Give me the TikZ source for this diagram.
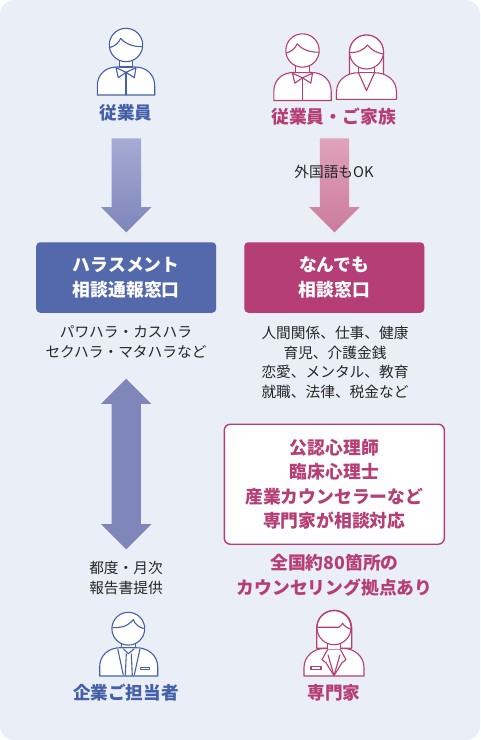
\documentclass[tikz,border=0pt]{standalone}
\usepackage{fontspec}
\setmainfont{Noto Sans CJK JP}
\usetikzlibrary{shapes.arrows,shadows}
\definecolor{panelbg}{HTML}{E9EEF7}
\definecolor{bluemain}{HTML}{5468AC}
\definecolor{bluetext}{HTML}{4460A8}
\definecolor{pinkmain}{HTML}{B43E75}
\definecolor{bluefade}{HTML}{A5ABD3}
\definecolor{bluedeep}{HTML}{7E86BA}
\definecolor{pinkfade}{HTML}{E0A3BB}
\definecolor{pinkdeep}{HTML}{CB7B9D}
\tikzset{
  textbody/.style={align=center, text=black!85, inner sep=0pt, font=\fontsize{14.7}{19.6}\selectfont},
  textblue/.style={align=center, text=bluetext, inner sep=0pt, font=\fontsize{17.6}{24}\selectfont\bfseries},
  textpink/.style={align=center, text=pinkmain, inner sep=0pt, font=\fontsize{17.8}{24.4}\selectfont\bfseries},
  deskbox/.style={draw=none, fill=#1, rounded corners=4pt, minimum width=180pt, minimum height=70.5pt, align=center, inner sep=0pt, text=white, font=\fontsize{17.8}{24.6}\selectfont\bfseries, drop shadow={shadow xshift=0pt, shadow yshift=0pt, opacity=0.18, fill=#1}},
  downarrow/.style 2 args={single arrow, shape border rotate=270, draw=none, top color=#1, bottom color=#2, minimum height=94pt, single arrow head extend=10.5pt, single arrow head indent=0pt, inner sep=14.5pt, outer sep=0pt},
  icon/.style={draw=#1, fill=white, line width=1.1pt, line join=round},
  man/.pic={
    \path[pic actions] (-28.7,50) -- (-28.7,41) .. controls (-28.7,29) and (-20,22) .. (-9,22) -- (9,22) .. controls (20,22) and (28.7,29) .. (28.7,41) -- (28.7,50) -- cycle;
    \path[pic actions] (-6.7,12) -- (-6.7,22) -- (6.7,22) -- (6.7,12);
    \path[pic actions] (-10,22.7) -- (-7.7,32.7) -- (0,27.3) -- (8.3,32.7) -- (10,22.7) -- (0,27.3) -- cycle;
    \path[pic actions] (0,27.3) -- (0,50);
    \path[pic actions] (0,0) circle (16.7);
    \path[pic actions] (-16.5,2.7) .. controls (-10,1) and (-7,-3) .. (-5.3,-6.7) .. controls (-1,-1) and (8,2) .. (16.5,1.7);
  },
  woman/.pic={
    \path[pic actions] (-17,0) -- (-17,26) -- (17,26) -- (17,0) arc (0:-180:17) -- cycle;
    \path[pic actions] (-30,47.3) -- (-30,40) .. controls (-30,28) and (-20,20.7) .. (-8,20.7) -- (8,20.7) .. controls (20,20.7) and (30,28) .. (30,40) -- (30,47.3) -- cycle;
    \path[pic actions] (-8,20.7) -- (0,38.7) -- (8,20.7);
    \path[pic actions] (-8,14) -- (-8,20.7) -- (8,20.7) -- (8,14);
    \path[pic actions] (0,0) circle (17);
    \path[pic actions] (-17,0.5) .. controls (-8,1) and (-2,-3) .. (1,-7) .. controls (5,-2) and (10,1) .. (17,2);
  },
  officer/.pic={
    \path[pic actions] (-28.6,47.3) -- (-28.6,38) .. controls (-28.6,27) and (-20,19) .. (-8,19) -- (8,19) .. controls (20,19) and (29.4,27) .. (29.4,38) -- (29.4,47.3) -- cycle;
    \path[pic actions] (-6.6,12) -- (-6.6,19) -- (7.4,19) -- (7.4,12);
    \path[pic actions] (-10.6,20) -- (-5,46.3);
    \path[pic actions] (11.7,20) -- (6,46.3);
    \path[pic actions] (-5,20) -- (0,25) -- (6,20);
    \path[pic actions] (-2,25) -- (-3,47) (3,25) -- (4,47);
    \path[pic actions, line width=0.9pt] (11.7,38.3) rectangle (20.7,41);
    \path[pic actions] (0,0) circle (16.4);
    \path[pic actions] (-16,-1) .. controls (-9,-1) and (-2,-1) .. (5,-9) .. controls (7,-4) and (11,-1) .. (16.5,0);
  },
  expert/.pic={
    \path[pic actions] (-17.3,0) -- (-17.3,20.5) -- (17.7,20.5) -- (17.7,0) arc (0:-180:17.5) -- cycle;
    \path[pic actions] (-30,48.3) -- (-30,40) .. controls (-30,29) and (-21,20.7) .. (-9,20.7) -- (9,20.7) .. controls (21,20.7) and (30,29) .. (30,40) -- (30,48.3) -- cycle;
    \path[pic actions] (-6.5,14) -- (-6.5,22) -- (6.5,22) -- (6.5,14);
    \path[pic actions] (-6.5,22) -- (-12,32) -- (-8,35) -- (0,48) -- (8,35) -- (12,32) -- (6.5,22);
    \path[pic actions] (-6,27) -- (0,48) -- (6,27);
    \path[pic actions] (-23,38.7) rectangle (-13,42);
    \path[pic actions] (0,0) circle (17);
    \path[pic actions] (-17.3,-0.5) -- (5,-0.5) .. controls (7,-1) and (7.5,-4) .. (8.7,-4.5) .. controls (10,-2) and (13,0.5) .. (17,1.5);
  },
}
\begin{document}
\begin{tikzpicture}[x=1pt,y=-1pt]
\useasboundingbox (0,0) rectangle (480,740);
\fill[panelbg] (0,0) [rounded corners=14pt] rectangle (480,740);

\pic[icon=bluetext] at (126,45) {man};
\pic[icon=pinkmain] at (302.5,50.5) {man};
\pic[icon=pinkmain] at (366.5,52) {woman};
\node[textblue] (staff) at (126,112.7) {従業員};
\node[textpink] (family) at (333.5,116.7) {従業員・ご家族};

\node[downarrow={bluefade}{bluedeep}] (arrowstaff) at (126.3,178) {};
\node[downarrow={pinkfade}{pinkdeep}] (arrowfamily) at (334.5,178) {};
\node[textbody] (foreign) at (334,171.7) {外国語もOK};

\node[deskbox=bluemain] (harassdesk) at (126.2,277.5) {ハラスメント\\相談通報窓口};
\node[deskbox=pinkmain] (anydesk) at (334.3,277.5) {なんでも\\相談窓口};

\node[textbody] (harasstext) at (126,342) {パワハラ・カスハラ\\セクハラ・マタハラなど};
\node[textbody] (anytext) at (335,362.5) {人間関係、仕事、健康\\育児、介護金銭\\恋愛、メンタル、教育\\就職、法律、税金など};

\node[double arrow, shape border rotate=90, draw=none, top color=bluedeep, middle color=bluefade, bottom color=bluedeep, minimum height=170.6pt, double arrow head extend=10.5pt, double arrow head indent=0pt, inner sep=14.5pt, outer sep=0pt] (arrowreport) at (126.2,464) {};

\node[draw=pinkmain, line width=1.4pt, fill=white, rounded corners=6pt, minimum width=220pt, minimum height=120pt, inner sep=0pt, align=center, text=pinkmain, font=\fontsize{17.8}{24.4}\selectfont\bfseries] (counsel) at (334.3,484.2) {公認心理師\\臨床心理士\\産業カウンセラーなど\\専門家が相談対応};
\node[textpink] (bases) at (334.5,575) {全国約80箇所の\\カウンセリング拠点あり};
\node[textbody] (reporttext) at (126,578) {都度・月次\\報告書提供};

\pic[icon=bluetext] at (128.3,628.7) {officer};
\pic[icon=pinkmain] at (334,627.7) {expert};
\node[textblue] (contact) at (126,693) {企業ご担当者};
\node[textpink, font=\fontsize{17.6}{24}\selectfont\bfseries] (expertname) at (334,693) {専門家};
\end{tikzpicture}
\end{document}
